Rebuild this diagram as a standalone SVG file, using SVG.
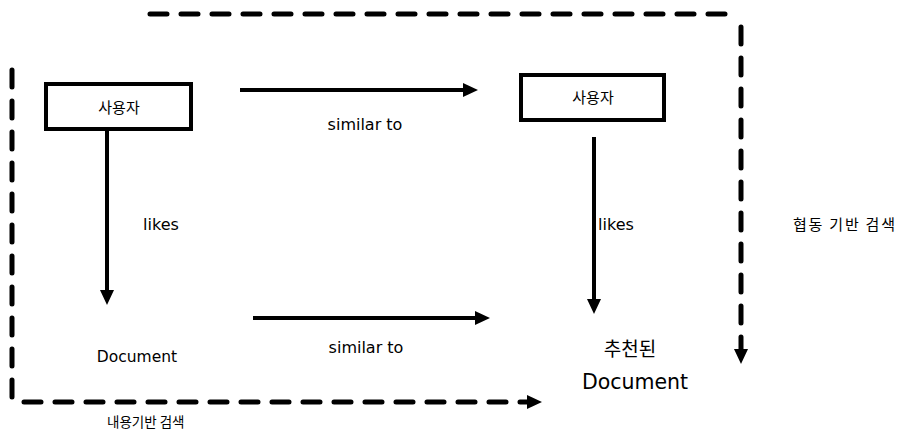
<svg xmlns="http://www.w3.org/2000/svg" width="900" height="436" viewBox="0 0 900 436">
<style>
.box{fill:#fff;stroke:#000;stroke-width:4}
.solid{fill:none;stroke:#000;stroke-width:4}
.dash{fill:none;stroke:#000;stroke-width:5;stroke-dasharray:17 14;stroke-linecap:round}
.lat{font-family:"DejaVu Sans","Liberation Sans",sans-serif;fill:#000}
.kr{font-family:"Noto Sans CJK KR","DejaVu Sans",sans-serif;fill:#000}
</style>
<defs>
<marker id="ah" markerUnits="userSpaceOnUse" viewBox="0 0 15 14" markerWidth="15" markerHeight="14" refX="0" refY="7" orient="auto">
<path d="M0,0 L15,7 L0,14 z" fill="#000"/>
</marker>
</defs>
<g id="connectors">
<path class="solid" d="M240,90 H463" marker-end="url(#ah)"/>
<path class="solid" d="M253,318 H475" marker-end="url(#ah)"/>
<path class="solid" d="M107,130 V290" marker-end="url(#ah)"/>
<path class="solid" d="M594,137 V299" marker-end="url(#ah)"/>
<path class="dash" d="M150,14 H727"/>
<path class="dash" d="M741,27 V349" marker-end="url(#ah)"/>
<path class="dash" d="M12,70 V398"/>
<path class="dash" d="M24,402 H527" marker-end="url(#ah)"/>
</g>
<g id="user-left">
<rect class="box" x="46" y="84" width="145" height="45"/>
<text class="kr" x="119" y="113" font-size="15" text-anchor="middle">사용자</text>
</g>
<g id="user-right">
<rect class="box" x="521" y="75" width="143" height="45"/>
<text class="kr" x="593" y="103" font-size="15" text-anchor="middle">사용자</text>
</g>
<g id="doc-left">
<text class="lat" x="137" y="362" font-size="15.5" text-anchor="middle">Document</text>
</g>
<g id="doc-right">
<text class="kr" x="630" y="356" font-size="19" text-anchor="middle">추천된</text>
<text class="lat" x="635" y="389" font-size="20.5" text-anchor="middle">Document</text>
</g>
<g id="labels">
<text class="lat" x="365" y="130" font-size="16" text-anchor="middle">similar to</text>
<text class="lat" x="366" y="353" font-size="16" text-anchor="middle">similar to</text>
<text class="lat" x="161" y="230" font-size="16" text-anchor="middle">likes</text>
<text class="lat" x="616" y="230" font-size="16" text-anchor="middle">likes</text>
<text class="kr" x="107" y="427" font-size="13.5">내용기반 검색</text>
<text class="kr" x="793" y="230" font-size="15" textLength="102">협동 기반 검색</text>
</g>
</svg>
